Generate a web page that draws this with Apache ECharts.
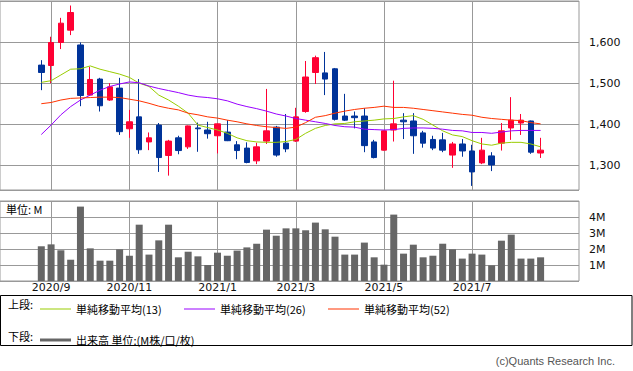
<!DOCTYPE html>
<html>
<head>
<meta charset="utf-8">
<script src="https://cdn.jsdelivr.net/npm/echarts@6/dist/echarts.min.js"></script>
<style>
html,body{margin:0;padding:0;background:#fff;}
#chart{width:633px;height:371px;}
</style>
</head>
<body>
<div id="chart"></div>
<script>
// ---- data ----
const dates = ['2020/8/31','2020/9/7','2020/9/14','2020/9/21','2020/9/28','2020/10/5','2020/10/12','2020/10/19','2020/10/26','2020/11/2',
'2020/11/9','2020/11/16','2020/11/23','2020/11/30','2020/12/7','2020/12/14','2020/12/21','2020/12/28','2021/1/4','2021/1/11',
'2021/1/18','2021/1/25','2021/2/1','2021/2/8','2021/2/15','2021/2/22','2021/3/1','2021/3/8','2021/3/15','2021/3/22',
'2021/3/29','2021/4/5','2021/4/12','2021/4/19','2021/4/26','2021/5/3','2021/5/10','2021/5/17','2021/5/24','2021/5/31',
'2021/6/7','2021/6/14','2021/6/21','2021/6/28','2021/7/5','2021/7/12','2021/7/19','2021/7/26','2021/8/2','2021/8/9',
'2021/8/16','2021/8/23'];
const monthTicks = ['2020/9','2020/11','2021/1','2021/3','2021/5','2021/7'];

const open  = [1544,1543,1599,1629,1593,1471,1510,1459,1488,1389,1418,1357,1398,1324,1367,1345,1391,1386,1372,1381,
               1350,1342,1311,1359,1393,1354,1359,1431,1526,1525,1535,1420,1420,1420,1357,1337,1386,1410,1408,1379,
               1363,1362,1325,1352,1335,1306,1323,1354,1391,1403,1408,1330];
const close = [1526,1599,1646,1672,1470,1509,1445,1491,1382,1406,1338,1367,1319,1359,1336,1396,1389,1377,1401,1360,
               1336,1307,1345,1384,1325,1340,1418,1515,1562,1510,1412,1410,1416,1348,1319,1384,1401,1406,1372,1354,
               1342,1337,1352,1335,1284,1337,1301,1384,1410,1410,1332,1337];
const low   = [1483,1500,1583,1617,1444,1469,1431,1457,1374,1367,1328,1337,1284,1275,1327,1340,1333,1365,1329,1359,
               1315,1305,1303,1352,1321,1332,1357,1428,1498,1471,1409,1408,1390,1332,1317,1336,1358,1364,1328,1343,
               1337,1332,1294,1321,1250,1303,1286,1336,1362,1374,1328,1318];
const high  = [1556,1613,1659,1689,1599,1540,1513,1500,1513,1435,1510,1380,1403,1362,1372,1397,1404,1406,1402,1410,
               1359,1356,1355,1486,1396,1425,1440,1554,1567,1576,1537,1474,1431,1439,1362,1385,1506,1427,1427,1384,
               1372,1379,1357,1364,1350,1367,1332,1403,1466,1425,1409,1367];

const ma13 = [1502,1506,1520,1534,1535,1542,1534,1528,1522,1514,1500,1492,1471,1459,1444,1427,1398,1392,1386,1378,
              1367,1360,1357,1356,1356,1358,1363,1378,1390,1397,1401,1402,1406,1408,1410,1413,1414,1418,1421,1412,
              1398,1384,1374,1370,1360,1352,1349,1354,1356,1356,1352,1345];
const ma26 = [1375,1398,1423,1443,1459,1471,1483,1492,1498,1503,1501,1493,1487,1482,1477,1471,1467,1465,1462,1457,
              1449,1443,1438,1432,1425,1420,1414,1410,1406,1402,1397,1394,1393,1388,1387,1386,1387,1390,1391,1391,
              1390,1388,1385,1384,1380,1380,1378,1381,1384,1385,1385,1385];
const ma52 = [1450,1453,1459,1463,1464,1465,1466,1466,1465,1461,1457,1451,1444,1439,1435,1427,1423,1418,1415,1410,
              1406,1401,1397,1394,1392,1390,1393,1404,1417,1421,1427,1432,1436,1439,1441,1444,1441,1441,1439,1436,
              1433,1430,1427,1424,1422,1417,1414,1412,1410,1409,1404,1401];

// volume in millions
const volume = [2.17,2.29,1.92,1.33,4.65,2.04,1.27,1.27,1.98,1.58,3.52,1.65,2.54,3.52,1.48,1.83,1.54,1.00,1.77,1.58,
                1.90,2.10,2.33,3.21,2.83,3.29,3.29,3.17,3.65,3.23,2.77,1.65,1.65,2.40,1.48,1.02,4.15,1.71,2.27,1.48,
                1.58,2.33,1.98,1.40,1.71,1.65,0.98,2.52,2.90,1.40,1.40,1.48];

const seriesNames = ['単純移動平均(13)','単純移動平均(26)','単純移動平均(52)','出来高 単位:(M株/口/枚)'];

// ---- helpers ----
function ym(d){ const p = d.split('/'); return p[0] + '/' + p[1]; }
function isMonthTick(i){
  const cur = ym(dates[i]);
  const prev = i > 0 ? ym(dates[i-1]) : null;
  return cur !== prev && monthTicks.indexOf(cur) >= 0;
}
const candleData = dates.map((d,i)=>[open[i], close[i], low[i], high[i]]);

const GRID = '#999999';
const NUMFONT = 'DejaVu Sans';
const JPFONT = '"Noto Sans CJK JP", sans-serif';
const PLOT_L = 36.4, PLOT_W = 509.1;

function lineLegend(name, left){
  return {data:[{name:name, icon:'rect'}], left:left, top:303.5, itemWidth:31, itemHeight:1, padding:0,
          selectedMode:false, textStyle:{fontSize:11, color:'#000', fontFamily:JPFONT}};
}

const chart = echarts.init(document.getElementById('chart'), null, {renderer:'svg'});
chart.setOption({
  animation: false,
  backgroundColor: '#ffffff',
  grid: [
    {left:0, top:1, width:579, height:189, show:true, borderColor:GRID, borderWidth:1},
    {left:PLOT_L, top:1, width:PLOT_W, height:189},
    {left:0, top:201, width:579, height:80, show:true, borderColor:GRID, borderWidth:1},
    {left:PLOT_L, top:201, width:PLOT_W, height:80}
  ],
  xAxis: [
    {gridIndex:0, type:'value', show:false, min:0, max:1},
    {gridIndex:1, type:'category', data:dates, boundaryGap:true,
     axisLine:{show:false}, axisTick:{show:false}, axisLabel:{show:false},
     splitLine:{show:true, interval:(i)=>isMonthTick(i), alignWithLabel:true, lineStyle:{color:GRID, width:1}}},
    {gridIndex:2, type:'value', show:false, min:0, max:1},
    {gridIndex:3, type:'category', data:dates, boundaryGap:true,
     axisLine:{show:false}, axisTick:{show:false},
     axisLabel:{interval:(i)=>isMonthTick(i), formatter:(v)=>ym(v), margin:1, fontSize:11, fontFamily:NUMFONT, color:'#111'},
     splitLine:{show:true, interval:(i)=>isMonthTick(i), alignWithLabel:true, lineStyle:{color:GRID, width:1}}}
  ],
  yAxis: [
    {gridIndex:0, type:'value', position:'right', min:1240, max:1700, splitNumber:5,
     axisLine:{show:false}, axisTick:{show:true, length:5, lineStyle:{color:GRID}},
     axisLabel:{showMinLabel:false, showMaxLabel:false, margin:10, fontSize:11, fontFamily:NUMFONT, color:'#111',
                formatter:(v)=>v.toLocaleString('en-US')},
     splitLine:{show:true, lineStyle:{color:GRID, width:1}}},
    {gridIndex:1, type:'value', min:1240, max:1700, show:false, splitLine:{show:false}},
    {gridIndex:2, type:'value', position:'right', min:0, max:5, interval:1,
     axisLine:{show:false}, axisTick:{show:true, length:5, lineStyle:{color:GRID}},
     axisLabel:{showMinLabel:false, showMaxLabel:false, margin:10, fontSize:11, fontFamily:NUMFONT, color:'#111',
                formatter:(v)=>v + 'M'},
     splitLine:{show:true, lineStyle:{color:GRID, width:1}}},
    {gridIndex:3, type:'value', min:0, max:5, show:false, splitLine:{show:false}}
  ],
  legend: [
    lineLegend(seriesNames[0], 40),
    lineLegend(seriesNames[1], 184),
    lineLegend(seriesNames[2], 328),
    {data:[{name:seriesNames[3], icon:'rect'}], left:40, top:334.5, itemWidth:31, itemHeight:3, padding:0, selectedMode:false,
     textStyle:{fontSize:11, color:'#000', fontFamily:JPFONT}}
  ],
  series: [
    {type:'candlestick', name:'株価', xAxisIndex:1, yAxisIndex:1, data:candleData, barWidth:6,
     itemStyle:{color:'#ff0033', color0:'#003399', borderColor:'#ff0033', borderColor0:'#003399', borderWidth:1}},
    {type:'line', name:seriesNames[0], xAxisIndex:1, yAxisIndex:1, data:ma13, symbol:'none',
     lineStyle:{color:'#99cc00', width:1}, itemStyle:{color:'#99cc00'}},
    {type:'line', name:seriesNames[1], xAxisIndex:1, yAxisIndex:1, data:ma26, symbol:'none',
     lineStyle:{color:'#9900ff', width:1}, itemStyle:{color:'#9900ff'}},
    {type:'line', name:seriesNames[2], xAxisIndex:1, yAxisIndex:1, data:ma52, symbol:'none',
     lineStyle:{color:'#ff3300', width:1}, itemStyle:{color:'#ff3300'}},
    {type:'bar', name:seriesNames[3], xAxisIndex:3, yAxisIndex:3, data:volume, barWidth:7,
     itemStyle:{color:'#666666'}}
  ],
  graphic: [
    {type:'text', x:6, y:209, style:{text:'単位: M', fill:'#000', font:'11px ' + JPFONT, verticalAlign:'middle', textVerticalAlign:'middle'}},
    {type:'rect', shape:{x:0.5, y:295.5, width:631.5, height:50}, style:{fill:'none', stroke:'#000', lineWidth:1}},
    {type:'text', x:8, y:304, style:{text:'上段:', fill:'#000', font:'11px ' + JPFONT, verticalAlign:'middle', textVerticalAlign:'middle'}},
    {type:'text', x:8, y:336, style:{text:'下段:', fill:'#000', font:'11px ' + JPFONT, verticalAlign:'middle', textVerticalAlign:'middle'}},
    {type:'text', x:615, y:361, style:{text:'(c)Quants Research Inc.', fill:'#555', font:'11px "Liberation Sans"', align:'right', textAlign:'right', verticalAlign:'middle', textVerticalAlign:'middle'}}
  ]
});
</script>
</body>
</html>
